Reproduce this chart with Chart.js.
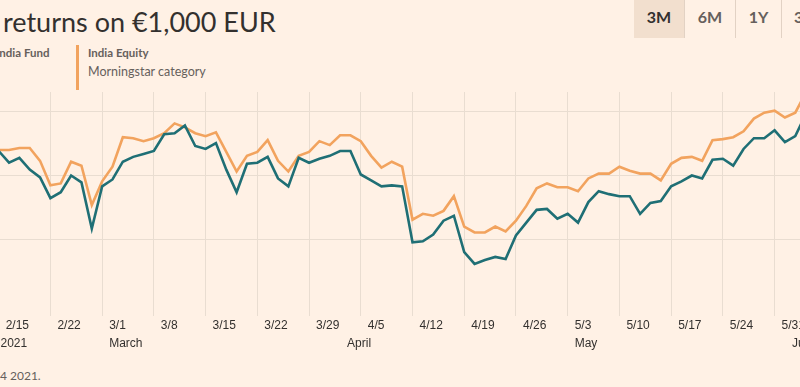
<!DOCTYPE html>
<html>
<head>
<meta charset="utf-8">
<script src="https://cdn.jsdelivr.net/npm/chart.js@4/dist/chart.umd.min.js"></script>
<style>
  body { margin: 0; width: 800px; height: 387px; overflow: hidden; background: #fff1e5; position: relative; font-family: Lato, "Open Sans", sans-serif; }
  .title { position: absolute; left: 3px; top: 5px; font-size: 27px; color: #33302e; white-space: nowrap; }
  .leg { position: absolute; white-space: nowrap; color: #66605c; }
  .leg b { font-size: 11.5px; font-weight: 700; }
  .bar { position: absolute; left: 76px; top: 45px; width: 3px; height: 45px; background: #f2a35e; }
  .btns { position: absolute; left: 634px; top: 0; height: 38px; display: flex; }
  .btns div { height: 38px; line-height: 34px; text-align: center; font-weight: 700; font-size: 16px; color: #66605c; border-right: 1px solid #e2d2c4; }
  .btns .on { background: #f2dfce; color: #33302e; }
  .foot { position: absolute; left: 0; top: 368px; font-size: 12px; color: #66605c; white-space: nowrap; }
  #wrap { position: absolute; left: -22px; top: 92px; width: 869px; height: 261px; }
</style>
</head>
<body>
<div class="title">returns on €1,000 EUR</div>
<div class="leg" style="left:-4px; top:41px;"><b>India Fund</b></div>
<div class="bar"></div>
<div class="leg" style="left:88px; top:41px;"><b>India Equity</b></div>
<div class="leg" style="left:88px; top:64px; font-size:12.5px;">Morningstar category</div>
<div class="btns">
  <div class="on" style="width:50px;">3M</div>
  <div style="width:50px;">6M</div>
  <div style="width:45px;">1Y</div>
  <div style="width:40px; text-align:left; padding-left:12px;">3Y</div>
</div>
<div class="foot">4 2021.</div>
<div id="wrap"><canvas id="chart"></canvas></div>
<script>
// trading days from Mon 15 Feb 2021 (index 0) to Thu 3 Jun 2021 (index 78)
const fundValues = [
  1019.2, 1010.0, 1013.8, 1004.6, 998.5, 982.3, 986.9, 1000.0, 994.6, 958.5,
  991.5, 996.9, 1010.8, 1014.6, 1016.9, 1019.2, 1032.3, 1033.1, 1039.2, 1023.1,
  1020.8, 1025.4, 1004.6, 986.9, 1009.2, 1010.0, 1014.6, 997.7, 991.5, 1013.8,
  1010.0, 1013.1, 1015.4, 1019.2, 1019.2, 1000.8, 996.2, 991.5, 992.3, 991.5,
  947.7, 948.5, 953.8, 964.6, 968.5, 940.0, 930.8, 933.8, 936.2, 934.6,
  953.1, 963.1, 973.1, 973.8, 966.2, 970.0, 963.1, 979.2, 987.7, 985.4,
  983.8, 983.8, 970.0, 978.5, 980.0, 991.5, 995.4, 1000.0, 997.7, 1012.3,
  1013.1, 1007.7, 1020.8, 1029.2, 1029.2, 1035.4, 1026.2, 1030.8, 1047.7
];
const categoryValues = [
  1020.0, 1020.0, 1021.5, 1021.5, 1011.5, 992.3, 993.8, 1010.8, 1007.7, 976.9,
  995.4, 1006.9, 1030.0, 1029.2, 1026.9, 1029.2, 1033.1, 1040.8, 1037.7, 1033.1,
  1030.8, 1033.8, 1018.5, 1003.1, 1015.4, 1018.5, 1027.7, 1011.5, 1003.1, 1015.4,
  1018.5, 1026.9, 1023.8, 1031.5, 1031.5, 1026.9, 1015.4, 1006.2, 1010.8, 1006.9,
  965.4, 970.0, 968.5, 972.3, 983.8, 960.0, 955.4, 955.4, 960.0, 956.2,
  964.6, 976.2, 990.0, 993.8, 990.8, 990.8, 987.7, 997.7, 1001.5, 1001.5,
  1006.9, 1003.8, 1001.5, 1001.5, 996.2, 1009.2, 1013.8, 1014.6, 1011.5, 1027.7,
  1028.5, 1030.0, 1034.6, 1044.6, 1049.2, 1050.8, 1045.4, 1049.2, 1064.6
];
// week ticks (Mondays) and month ticks, as trading-day indexes
const weekTicks = [0, 5, 10, 15, 20, 25, 30, 35, 40, 45, 50, 55, 60, 65, 70, 75];
const weekLabels = ['2/15', '2/22', '3/1', '3/8', '3/15', '3/22', '3/29', '4/5',
  '4/12', '4/19', '4/26', '5/3', '5/10', '5/17', '5/24', '5/31'];
const monthTicks = [-0.5, 10, 33, 55, 76];
const monthLabels = ['2021', 'March', 'April', 'May', 'June'];
const yTicks = [950, 1000, 1050];

const toPoints = arr => arr.map((v, i) => ({ x: i, y: v }));
const tickFont = { family: '"Liberation Sans", Arial, sans-serif', size: 12 };

new Chart(document.getElementById('chart'), {
  type: 'line',
  data: {
    datasets: [
      { label: 'India Fund', data: toPoints(fundValues), borderColor: '#1f6f75', borderWidth: 2.6, pointRadius: 0, tension: 0 },
      { label: 'India Equity', data: toPoints(categoryValues), borderColor: '#f2a35e', borderWidth: 2.6, pointRadius: 0, tension: 0 }
    ]
  },
  options: {
    responsive: true,
    maintainAspectRatio: false,
    animation: false,
    layout: { padding: 0 },
    plugins: { legend: { display: false }, tooltip: { enabled: false } },
    scales: {
      x: {
        type: 'linear', min: -2, max: 82, weight: 0,
        afterBuildTicks: s => { s.ticks = weekTicks.map(v => ({ value: v })); },
        grid: { color: '#e9ddd1', lineWidth: 1, drawTicks: false },
        border: { display: false },
        ticks: { autoSkip: false, maxRotation: 0, align: 'start', labelOffset: 7, padding: 2, color: '#33302e', font: tickFont,
          callback: (v, i) => weekLabels[i] }
      },
      x2: {
        type: 'linear', position: 'bottom', min: -2, max: 82, weight: 1,
        afterBuildTicks: s => { s.ticks = monthTicks.map(v => ({ value: v })); },
        grid: { display: false, drawTicks: false },
        border: { display: false },
        ticks: { autoSkip: false, maxRotation: 0, align: 'start', labelOffset: 7, padding: 2, color: '#33302e', font: tickFont,
          callback: (v, i) => monthLabels[i] }
      },
      y: {
        position: 'right', min: 889.8, max: 1065.4,
        afterBuildTicks: s => { s.ticks = yTicks.map(v => ({ value: v })); },
        grid: { color: '#e9ddd1', lineWidth: 1, drawTicks: false },
        border: { display: false },
        ticks: { display: false }
      }
    }
  }
});
</script>
</body>
</html>
